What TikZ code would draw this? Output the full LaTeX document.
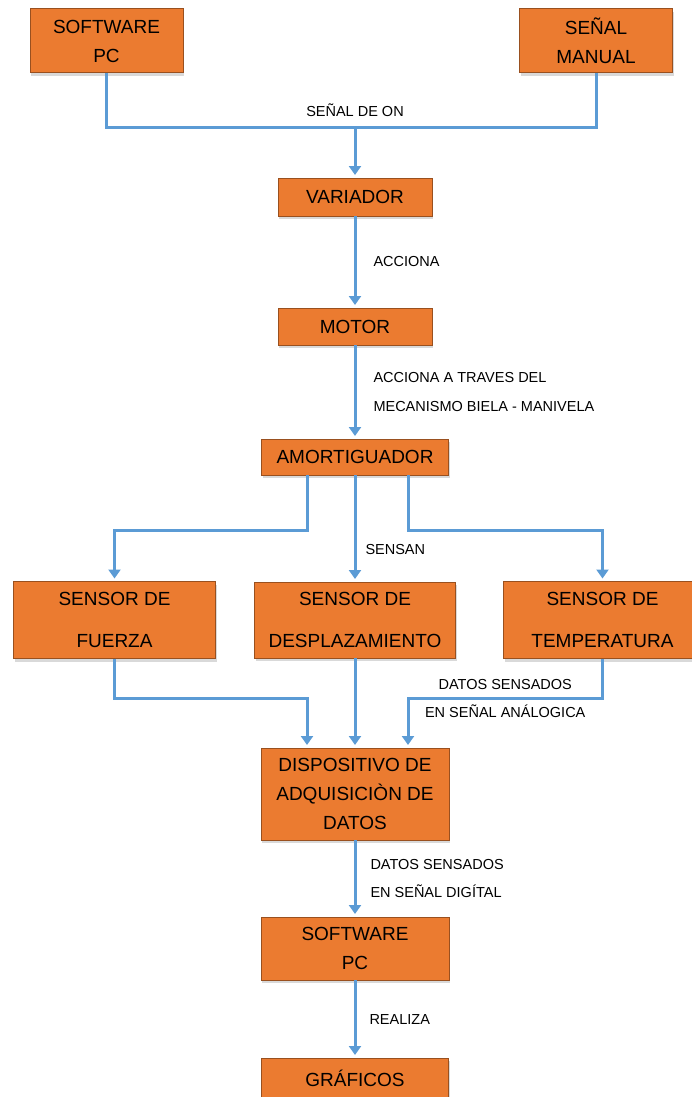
\documentclass[tikz,border=0pt]{standalone}
\usepackage{fontspec}
\setmainfont{Liberation Sans}
\usetikzlibrary{arrows.meta,positioning,shadows}
\definecolor{boxor}{RGB}{235,123,48}
\definecolor{linkbl}{RGB}{91,155,213}

\begin{document}
\begin{tikzpicture}[x=1pt,y=-1pt,node distance=90pt,
  box/.style={draw=boxor!65!black,line width=1pt,fill=boxor,inner sep=0pt,outer sep=0pt,align=center,
    minimum height=38pt,font=\fontsize{19}{29}\selectfont,
    drop shadow={opacity=0.3,shadow xshift=1pt,shadow yshift=-3pt}},
  tall/.style={box,minimum height=77pt,font=\fontsize{19}{42}\selectfont},
  tag/.style={inner sep=0pt,align=left,font=\fontsize{14.5}{28.5}\selectfont},
  con/.style={line width=3pt,draw=linkbl},
  arr/.style={con,-{Triangle[length=9pt,width=12pt]},shorten >=3pt}]
\useasboundingbox (0,0) rectangle (692,1097);
% top row and main chain
\node[box,minimum width=153pt,minimum height=64pt] (swa) at (106.5,41) {SOFTWARE\\PC};
\node[box,minimum width=153pt,minimum height=64pt] (man) at (596,41) {SEÑAL\\MANUAL};
\node[box,minimum width=154pt] (var) at (355,197) {VARIADOR};
\node[box,minimum width=154pt,minimum height=37pt,below=92pt of var] (mot) {MOTOR};
\node[box,minimum width=187pt,minimum height=36pt,below=94pt of mot] (amo) {AMORTIGUADOR};
% sensors
\node[tall,minimum width=201pt,minimum height=76pt,below=107pt of amo] (des) {SENSOR DE\\DESPLAZAMIENTO};
\node[tall,minimum width=202pt,left=39pt of des] (fue) {SENSOR DE\\FUERZA};
\node[tall,minimum width=198pt,right=48pt of des] (tem) {SENSOR DE\\TEMPERATURA};
\node[box,minimum width=188pt,minimum height=92pt,below=90pt of des] (dis) {DISPOSITIVO DE\\ADQUISICIÒN DE\\DATOS};
\node[box,minimum width=188pt,minimum height=63pt,below=77pt of dis] (swb) {SOFTWARE\\PC};
\node[box,minimum width=187pt,minimum height=40pt,below=78pt of swb] (gra) {GRÁFICOS};
% connectors
\coordinate (on) at (355,128);
\draw[con] (swa.south) |- (on) -| (man.south);
\node[tag,above=11pt of on] {SEÑAL DE ON};
\draw[arr] (on) -- (var.north);
\draw[arr] (var.south) -- (mot.north) node[midway,right=17pt,tag] {ACCIONA};
\draw[arr] (mot.south) -- (amo.north)
  node[midway,right=17pt,tag] {ACCIONA A TRAVES DEL\\MECANISMO BIELA - MANIVELA};
\draw[arr] ([xshift=-48pt]amo.south) -- ++(0,55) -| (fue.north);
\draw[arr] (amo.south) -- (des.north) node[pos=.7,right=9pt,tag] {SENSAN};
\draw[arr] ([xshift=53pt]amo.south) -- ++(0,55) -| (tem.north);
\draw[arr] (fue.south) -- ++(0,40) -| ([xshift=-48pt]dis.north);
\draw[arr] (des.south) -- (dis.north);
\draw[arr] (tem.south) -- ++(0,40) -| node[pos=.25,tag,align=center] {DATOS SENSADOS\\EN SEÑAL ANÁLOGICA} ([xshift=53pt]dis.north);
\draw[arr] (dis.south) -- (swb.north)
  node[midway,right=14pt,tag] {DATOS SENSADOS\\EN SEÑAL DIGÍTAL};
\draw[arr] (swb.south) -- (gra.north) node[midway,right=13pt,tag] {REALIZA};
\end{tikzpicture}
\end{document}
